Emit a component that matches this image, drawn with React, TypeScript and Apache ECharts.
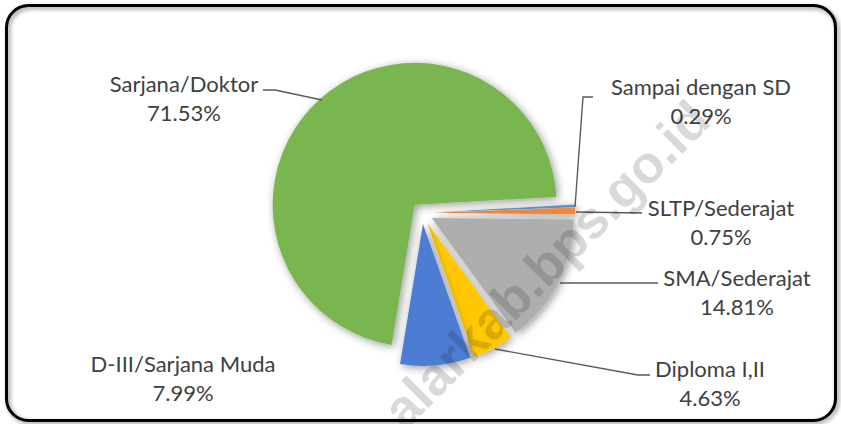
import React, { useEffect, useRef } from 'react';
import * as echarts from 'echarts';

const categories = ['Sampai dengan SD', 'SLTP/Sederajat', 'SMA/Sederajat', 'Diploma I,II', 'D-III/Sarjana Muda', 'Sarjana/Doktor'];
const values = [0.29, 0.75, 14.81, 4.63, 7.99, 71.53];
const colors = ['#62A0D9', '#F0873A', '#AEAEAE', '#FFC800', '#4D7DD2', '#7AB650'];
const watermark = 'alarkab.bps.go.id';

// label placement (layout only)
const labelPos: { x: number; y: number; line: number[][] | null }[] = [
  { x: 701, y: 101, line: [[575, 207], [583, 97], [593, 97]] },
  { x: 721, y: 222, line: [[576, 212], [642, 213]] },
  { x: 737, y: 292, line: [[560, 283], [658, 283]] },
  { x: 710, y: 383, line: [[495, 349], [638, 375], [650, 375]] },
  { x: 183, y: 378, line: null },
  { x: 184, y: 98, line: [[322, 100], [275, 90], [263, 90]] },
];

const FONT = 'Lato';

export default function App() {
  const ref = useRef<HTMLDivElement>(null);
  useEffect(() => {
    if (!ref.current) return;
    const chart = echarts.init(ref.current, undefined, { renderer: 'svg' });
    const center = [422, 213];
    const radius = 142;
    const startAngle = 3.2;
    chart.setOption({
      animation: false,
      backgroundColor: '#fff',
      series: [
        {
          type: 'pie',
          center,
          radius,
          startAngle,
          clockwise: true,
          selectedMode: 'multiple',
          selectedOffset: 11,
          silent: true,
          label: { show: false },
          labelLine: { show: false },
          emphasis: { disabled: true },
          data: categories.map((name, i) => ({
            name,
            value: values[i],
            selected: true,
            itemStyle: {
              color: colors[i],
              shadowBlur: 8,
              shadowOffsetX: 2,
              shadowOffsetY: 2,
              shadowColor: 'rgba(0,0,0,0.4)',
            },
          })),
          z: 2,
        },
        {
          type: 'pie',
          center,
          radius,
          startAngle,
          clockwise: true,
          silent: true,
          avoidLabelOverlap: false,
          itemStyle: { color: 'rgba(0,0,0,0)' },
          emphasis: { disabled: true },
          label: {
            show: true,
            position: 'outside',
            fontFamily: FONT,
            fontSize: 22,
            lineHeight: 29,
            color: '#404040',
            align: 'center',
            formatter: (p: any) => `${p.name}\n${Number(p.value).toFixed(2)}%`,
          },
          labelLine: {
            show: true,
            lineStyle: { color: '#595959', width: 1.4 },
          },
          labelLayout: (p: any) => {
            const lp = labelPos[p.dataIndex];
            const out: any = { x: lp.x, y: lp.y, align: 'center', verticalAlign: 'middle' };
            if (lp.line) out.labelLinePoints = lp.line;
            return out;
          },
          data: categories.map((name, i) => ({
            name,
            value: values[i],
            labelLine: { show: labelPos[i].line != null },
          })),
          z: 3,
        },
      ],
      graphic: [
        {
          type: 'text',
          x: 700,
          y: 110,
          rotation: (45 * Math.PI) / 180,
          z: 100,
          silent: true,
          style: {
            text: watermark,
            fontFamily: 'Liberation Sans',
            fontWeight: 'bold',
            fontSize: 53,
            fill: 'rgba(0,0,0,0.15)',
            align: 'right',
            verticalAlign: 'middle',
          },
        },
        {
          type: 'rect',
          z: 50,
          silent: true,
          shape: { x: 6.5, y: 5.5, width: 829, height: 415, r: 22 },
          style: {
            fill: 'none',
            stroke: '#000',
            lineWidth: 3,
            shadowBlur: 4,
            shadowOffsetX: 2,
            shadowOffsetY: 2,
            shadowColor: 'rgba(0,0,0,0.45)',
          },
        },
      ],
    });
    return () => chart.dispose();
  }, []);
  return (
    <div
      ref={ref}
      style={{ position: 'fixed', left: 0, top: 0, width: 841, height: 424 }}
    />
  );
}
